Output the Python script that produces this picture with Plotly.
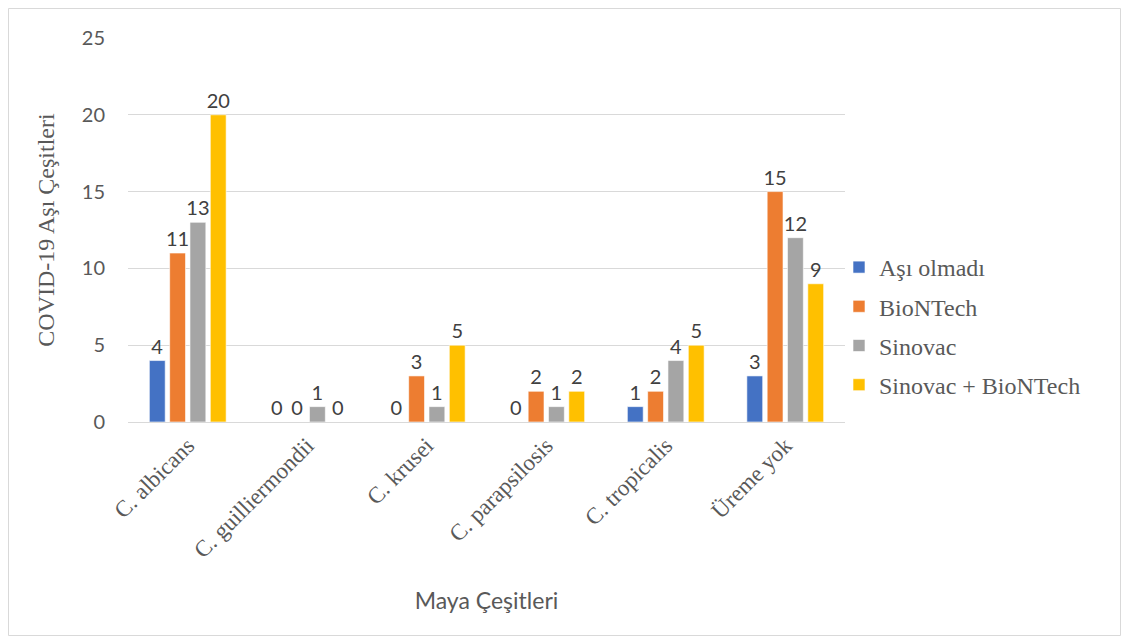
import plotly.graph_objects as go

categories = ["C. albicans", "C. guilliermondii", "C. krusei", "C. parapsilosis", "C. tropicalis", "Üreme yok"]
series_names = ["Aşı olmadı", "BioNTech", "Sinovac", "Sinovac + BioNTech"]
asi_olmadi = [4, 0, 0, 0, 1, 3]
biontech = [11, 0, 3, 2, 2, 15]
sinovac = [13, 1, 1, 1, 4, 12]
sinovac_biontech = [20, 0, 5, 2, 5, 9]
colors = ["#4472C4", "#ED7D31", "#A5A5A5", "#FFC000"]

fig = go.Figure()
for i, (name, vals) in enumerate(zip(series_names, [asi_olmadi, biontech, sinovac, sinovac_biontech])):
    fig.add_trace(go.Bar(
        x=categories, y=vals, name=name,
        marker=dict(color=colors[i], line=dict(color="white", width=0.6)),
        text=[str(v) for v in vals], textposition="outside", cliponaxis=False,
        constraintext="none",
        textfont=dict(family="Lato, Open Sans, sans-serif", size=20, color="#404040"),
        legendgroup=name,
    ))

L, R, T, B = 128, 282, 38, 219
pw = 1127 - L - R
ph = 641 - T - B

def px(x):
    return (x - L) / pw

def py(y):
    return (641 - B - y) / ph

fig.update_layout(
    width=1127, height=641,
    margin=dict(l=L, r=R, t=T, b=B),
    paper_bgcolor="white", plot_bgcolor="white",
    barmode="group", bargap=0.32, bargroupgap=0.22,
    font=dict(family="Lato, sans-serif", color="#595959"),
    showlegend=True,
    legend=dict(
        x=px(839), y=py(245), xanchor="left", yanchor="top",
        font=dict(family="Liberation Serif, Times New Roman, serif", size=24, color="#595959"),
        traceorder="grouped", tracegroupgap=5, itemwidth=30,
        bgcolor="rgba(0,0,0,0)",
    ),
    xaxis=dict(
        tickangle=-45, showgrid=False, showline=True, linecolor="#D9D9D9", linewidth=1,
        ticks="", tickfont=dict(family="Liberation Serif, Times New Roman, serif", size=23, color="#595959"),
        title=dict(text="Maya Çeşitleri", font=dict(family="Lato, sans-serif", size=23, color="#595959"), standoff=31),
    ),
    yaxis=dict(
        range=[0, 25], dtick=5, showgrid=True, gridcolor="#D9D9D9", gridwidth=1,
        zeroline=False, showline=False, ticks="", ticklen=0, ticklabelstandoff=22,
        tickfont=dict(family="Lato, sans-serif", size=20, color="#595959"),
        title=dict(text="COVID-19 Aşı Çeşitleri", font=dict(family="Liberation Serif, Times New Roman, serif", size=24, color="#595959"), standoff=20),
    ),
    shapes=[dict(type="rect", xref="paper", yref="paper",
                 x0=px(8.5), x1=px(1120.5), y0=py(635.5), y1=py(8.5),
                 line=dict(color="#D9D9D9", width=1), fillcolor="rgba(0,0,0,0)", layer="below")],
)

fig.write_html("out.html")
